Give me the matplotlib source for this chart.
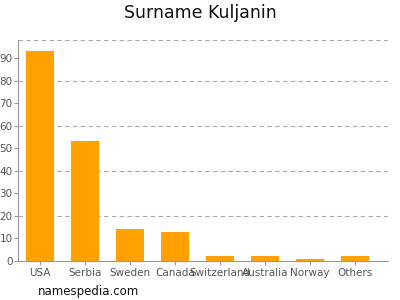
import matplotlib.pyplot as plt
import numpy as np

countries = ["USA", "Serbia", "Sweden", "Canada", "Switzerland", "Australia", "Norway", "Others"]
counts = [93, 53, 14, 13, 2, 2, 1, 2]
yticks = [0, 10, 20, 30, 40, 50, 60, 70, 80, 90]

fig = plt.figure(figsize=(4, 3), dpi=100)
ax = fig.add_axes([0.045, 0.13, 0.925, 0.737])

x = np.arange(len(countries))
ax.bar(x, counts, width=0.62, color="#ffa100", zorder=2)

ax.set_xlim(-0.49, 7.73)
ax.set_ylim(0, 98)
ax.set_yticks(yticks)
ax.set_xticks(x)
ax.set_xticklabels(countries)

for v in [20, 40, 60, 80, 98]:
    ax.axhline(v, color="#aaaaaa", linestyle=(0, (4, 3)), linewidth=0.8, zorder=1)

for side in ["top", "right"]:
    ax.spines[side].set_visible(False)
for side in ["left", "bottom"]:
    ax.spines[side].set_color("#999999")
    ax.spines[side].set_linewidth(0.8)

ax.tick_params(axis="both", colors="#999999", labelcolor="#555555", labelsize=7.5, length=3, width=0.8)
ax.tick_params(axis="y", pad=1)
ax.tick_params(axis="x", pad=2)

fig.text(0.5, 0.955, "Surname Kuljanin", ha="center", va="center", fontsize=12.5, color="#111111")
fig.text(0.095, 0.03, "namespedia.com", ha="left", va="center", fontsize=8.5, color="#111111")

fig.savefig("out.png", dpi=100)
